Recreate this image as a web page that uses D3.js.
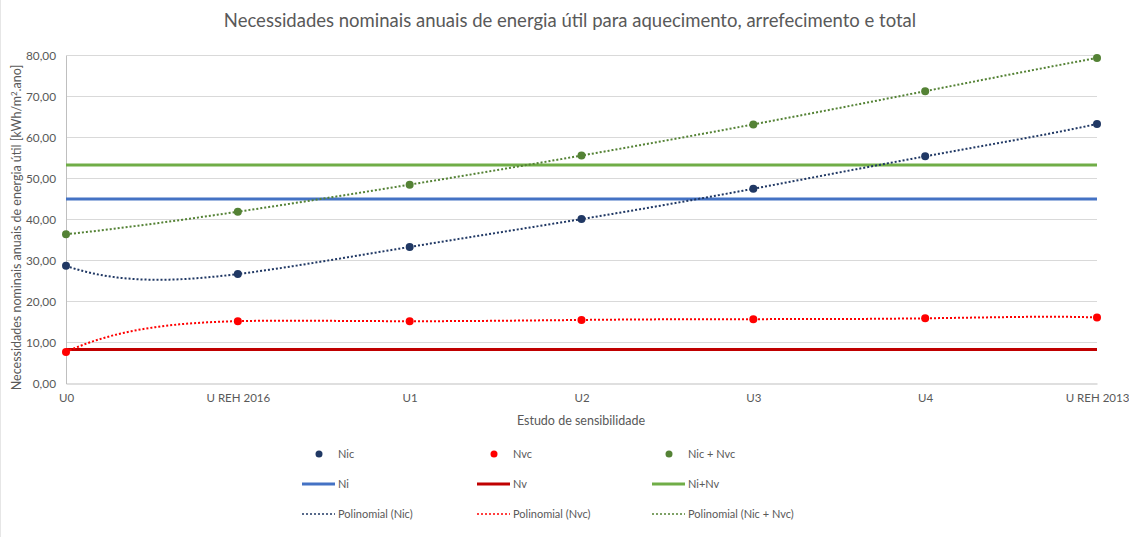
<!DOCTYPE html>
<html><head><meta charset="utf-8">
<script src="https://cdn.jsdelivr.net/npm/d3@7"></script>
<style>body{margin:0;background:#fff}svg{display:block}text{font-family:Lato,"Open Sans",sans-serif;fill:#595959}</style>
</head><body><svg id="c" width="1129" height="537"></svg>
<script>
const categories = ["U0","U REH 2016","U1","U2","U3","U4","U REH 2013"];
const nic = [28.7, 26.7, 33.3, 40.1, 47.5, 55.4, 63.3];
const nvc = [7.7, 15.2, 15.2, 15.5, 15.7, 15.9, 16.1];
const nicNvc = [36.4, 41.9, 48.5, 55.6, 63.2, 71.3, 79.4];
const ni = [45, 45, 45, 45, 45, 45, 45];
const nv = [8.3, 8.3, 8.3, 8.3, 8.3, 8.3, 8.3];
const niNv = [53.3, 53.3, 53.3, 53.3, 53.3, 53.3, 53.3];
const yTicks = [0,10,20,30,40,50,60,70,80];

const svg = d3.select("#c");
svg.append("rect").attr("x",0).attr("y",0).attr("width",1129).attr("height",537).attr("fill","#fff");
svg.append("line").attr("x1",0.5).attr("x2",0.5).attr("y1",0).attr("y2",537).attr("stroke","#e6e6e6");

const L=66, R=1097, T=55.5, B=383.5;
const x = d3.scalePoint().domain(categories).range([L,R]);
const xi = d3.scaleLinear().domain([0,categories.length-1]).range([L,R]);
const y = d3.scaleLinear().domain([0,80]).range([B,T]);

// gridlines
svg.append("g").selectAll("line").data(yTicks.filter(d=>d>0)).join("line")
  .attr("x1",L).attr("x2",R).attr("y1",d=>y(d)).attr("y2",d=>y(d))
  .attr("stroke","#d9d9d9").attr("stroke-width",1);

// y axis
const fmt = d=>d3.format(".2f")(d).replace(".",",");
const ya = svg.append("g").attr("transform",`translate(${L},0)`).call(d3.axisLeft(y).tickValues(yTicks).tickFormat(fmt).tickSize(0).tickPadding(10));
ya.select(".domain").attr("stroke","#bfbfbf");
ya.selectAll("text").attr("font-size",11.8).style("font-family","Lato,sans-serif").attr("fill","#595959");

// x axis
const xa = svg.append("g").attr("transform",`translate(0,${B})`).call(d3.axisBottom(x).tickSize(0).tickPadding(10));
xa.select(".domain").attr("stroke","#bfbfbf");
xa.selectAll("text").attr("font-size",11.5).style("font-family","Lato,sans-serif").attr("fill","#595959");

// titles
svg.append("text").attr("x",570).attr("y",27).attr("text-anchor","middle").attr("font-size",18.5).text("Necessidades nominais anuais de energia útil para aquecimento, arrefecimento e total");
svg.append("text").attr("x",581).attr("y",425).attr("text-anchor","middle").attr("font-size",12.5).text("Estudo de sensibilidade");
const yt = svg.append("text").attr("transform",`translate(21,${(T+B)/2+8}) rotate(-90)`).attr("text-anchor","middle").attr("font-size",12.5);
yt.append("tspan").text("Necessidades nominais anuais de energia útil [kWh/m");
yt.append("tspan").attr("dy",-4).attr("font-size",8).text("2");
yt.append("tspan").attr("dy",4).text(".ano]");

// polynomial trend (order 6, least squares == exact through 7 points)
function polyFit(vals, order){
  const n=vals.length, m=order+1;
  const A=[]; for(let i=0;i<m;i++){A.push(new Array(m+1).fill(0));}
  for(let i=0;i<m;i++){for(let j=0;j<m;j++){let s=0;for(let k=0;k<n;k++)s+=Math.pow(k,i+j);A[i][j]=s;}
    let s=0;for(let k=0;k<n;k++)s+=vals[k]*Math.pow(k,i);A[i][m]=s;}
  for(let c=0;c<m;c++){let p=c;for(let r=c+1;r<m;r++)if(Math.abs(A[r][c])>Math.abs(A[p][c]))p=r;[A[c],A[p]]=[A[p],A[c]];
    for(let r=0;r<m;r++){if(r===c)continue;const f=A[r][c]/A[c][c];for(let k=c;k<=m;k++)A[r][k]-=f*A[c][k];}}
  const coef=A.map((row,i)=>row[m]/row[i]);
  return t=>coef.reduce((s,c,i)=>s+c*Math.pow(t,i),0);
}
const lineGen = d3.line().x(d=>xi(d[0])).y(d=>y(d[1]));
function trend(vals,color){
  const f=polyFit(vals,6);
  const pts=d3.range(0,categories.length-1+1e-9,0.02).map(t=>[t,f(t)]);
  svg.append("path").attr("d",lineGen(pts)).attr("fill","none").attr("stroke",color).attr("stroke-width",2).attr("stroke-dasharray","2,2");
}
function hline(vals,color){
  svg.append("path").attr("d",lineGen(vals.map((v,i)=>[i,v]))).attr("fill","none").attr("stroke",color).attr("stroke-width",3);
}
hline(ni,"#4472c4"); hline(nv,"#c00000"); hline(niNv,"#70ad47");
trend(nic,"#203864"); trend(nvc,"#ff0000"); trend(nicNvc,"#548235");
function dots(vals,color){
  svg.append("g").selectAll("circle").data(vals).join("circle")
    .attr("cx",(d,i)=>x(categories[i])).attr("cy",d=>y(d)).attr("r",4).attr("fill",color);
}
dots(nic,"#203864"); dots(nvc,"#ff0000"); dots(nicNvc,"#548235");

// legend
const leg = svg.append("g");
const cols=[302,477,652];
const items=[
 {t:"Nic",type:"dot",c:"#203864",col:0,row:0},{t:"Nvc",type:"dot",c:"#ff0000",col:1,row:0},{t:"Nic + Nvc",type:"dot",c:"#548235",col:2,row:0},
 {t:"Ni",type:"line",c:"#4472c4",col:0,row:1},{t:"Nv",type:"line",c:"#c00000",col:1,row:1},{t:"Ni+Nv",type:"line",c:"#70ad47",col:2,row:1},
 {t:"Polinomial (Nic)",type:"dash",c:"#203864",col:0,row:2},{t:"Polinomial (Nvc)",type:"dash",c:"#ff0000",col:1,row:2},{t:"Polinomial (Nic + Nvc)",type:"dash",c:"#548235",col:2,row:2}
];
const rows=[454,484,514];
items.forEach(it=>{
  const x0=cols[it.col], yy=rows[it.row];
  if(it.type==="dot") leg.append("circle").attr("cx",x0+17).attr("cy",yy).attr("r",3.5).attr("fill",it.c);
  else leg.append("line").attr("x1",x0).attr("x2",x0+33).attr("y1",yy).attr("y2",yy).attr("stroke",it.c)
    .attr("stroke-width",it.type==="line"?3:1.5).attr("stroke-dasharray",it.type==="dash"?"2,2":null);
  leg.append("text").attr("x",x0+36).attr("y",yy+4).attr("font-size",11).text(it.t);
});
</script></body></html>
